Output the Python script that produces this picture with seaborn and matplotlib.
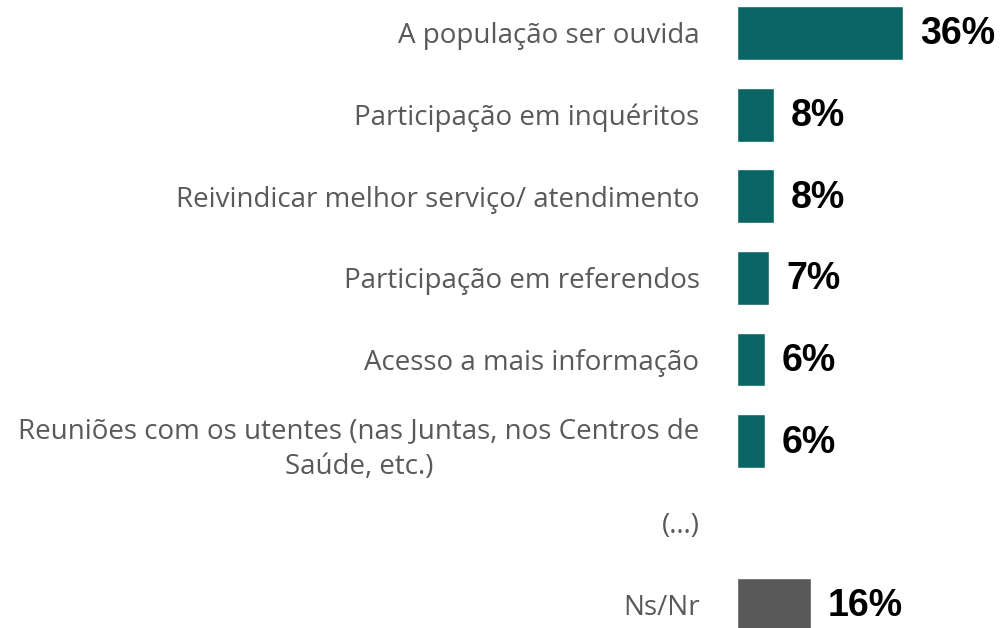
import numpy as np
import pandas as pd
import seaborn as sns
import matplotlib.pyplot as plt

# --- Data ---
CATEGORIES = [
    'A população ser ouvida',
    'Participação em inquéritos',
    'Reivindicar melhor serviço/ atendimento',
    'Participação em referendos',
    'Acesso a mais informação',
    'Reuniões com os utentes (nas Juntas, nos Centros de\nSaúde, etc.)',
    '(…)',
    'Ns/Nr',
]
VALUES = [36, 8, 8, 7, 6, 6, np.nan, 16]
LABELS = ['36%', '8%', '8%', '7%', '6%', '6%', '', '16%']

TEAL = '#0A6664'
GREY = '#595959'
COLORS = [TEAL] * 7 + [GREY]

df = pd.DataFrame({'Category': CATEGORIES, 'Value': VALUES})

sns.set_style('white')
plt.rcParams['font.family'] = ['Open Sans', 'DejaVu Sans']

fig = plt.figure(figsize=(10, 6.28), dpi=100)
ax = fig.add_axes([0.737, 0.0, 0.263, 1.0])

sns.barplot(
    data=df, x='Value', y='Category', hue='Category',
    palette=COLORS, saturation=1, orient='h', width=0.66, legend=False, ax=ax,
)

ax.set_xlim(0, 57)
ax.set_ylim(7.288, -0.404)
ax.set_xlabel('')
ax.set_ylabel('')
ax.set_xticks([])
ax.tick_params(axis='y', length=0, pad=27, labelsize=20, labelcolor='#595959')
for tl in ax.get_yticklabels():
    tl.set_multialignment('center')
    tl.set_linespacing(1.4)
sns.despine(ax=ax, left=True, bottom=True)

# value labels next to the bars
for i, (val, lab) in enumerate(zip(VALUES, LABELS)):
    if np.isnan(val):
        continue
    ax.annotate(lab, xy=(val, i), xytext=(12, -1), textcoords='offset points',
                ha='left', va='center', fontsize=27, fontweight='bold',
                family='Liberation Sans', color='black', annotation_clip=False)

fig.savefig('out.png', dpi=100)
